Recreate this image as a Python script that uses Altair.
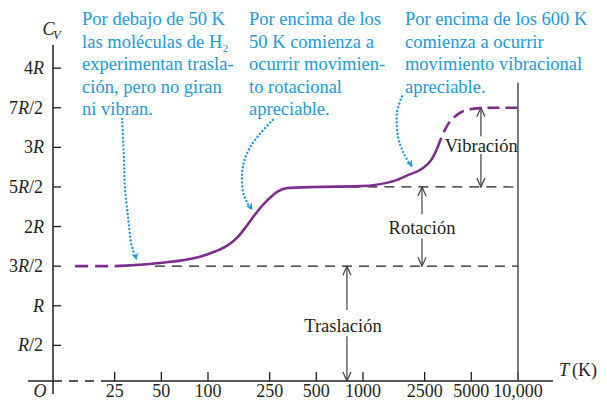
import altair as alt
import pandas as pd

# ---------------- data ----------------
# Heat capacity curve of H2 (T in K, Cv in units of R)
curve_T = [13.9, 18, 25, 31.4, 49, 88.7, 111, 134.6, 156, 181, 210, 244, 283, 328, 490,
           956, 1608, 1950, 2403, 2788, 3000, 3234, 3535, 3925, 4355, 4900, 5686, 7110, 10000]
curve_v = [1.5, 1.5, 1.5, 1.51, 1.54, 1.62, 1.685, 1.765, 1.87, 2.03, 2.20, 2.34, 2.445, 2.486, 2.5,
           2.51, 2.58, 2.65, 2.73, 2.855, 2.98, 3.14, 3.29, 3.39, 3.45, 3.48, 3.495, 3.5, 3.5]
solid_from, solid_to = 25, 3000

# dashed reference levels
ref_v = [1.5, 2.5]
ref_start = [45.5, 500]
ref_end = [10000, 10000]

# axis ticks / labels
x_ticks = [25, 50, 100, 250, 500, 1000, 2500, 5000, 10000]
x_labels = ["25", "50", "100", "250", "500", "1000", "2500", "5000", "10,000"]
y_ticks = [0.5, 1, 1.5, 2, 2.5, 3, 3.5, 4]
y_pre = ["", "", "3", "2", "5", "3", "7", "4"]
y_suf = ["/2", "", "/2", "", "/2", "", "/2", ""]
x_break = 22.6
x_min, x_max = 10, 16830
y_min, y_max = 0.05, 4.2925

# right border line
border_T = [10000]
border_top = [3.815]

# double arrows
arrow_T = [788, 2404, 5768]
arrow_top = [1.5, 2.5, 3.5]
arrow_gap_hi = [0.948, 2.157, 3.14]
arrow_gap_lo = [0.615, 1.85, 2.917]
arrow_bot = [y_min, 1.5, 2.5]
arrow_label = ["Traslación", "Rotación", "Vibración"]
label_T = [743, 2404, 5800]
label_v = [0.673, 1.911, 2.938]

# blue annotations
ann_text = [
    "Por debajo de 50 K\nlas moléculas de H₂\nexperimentan trasla-\nción, pero no giran\nni vibran.",
    "Por encima de los\n50 K comienza a\nocurrir movimien-\nto rotacional\napreciable.",
    "Por encima de los 600 K\ncomienza a ocurrir\nmovimiento vibracional\napreciable.",
]
ann_T = [15.4, 184, 1866]
ann_v = [4.545, 4.545, 4.545]

# dotted pointer curves
p1_T = [27.9, 28.7, 29.1, 30.5, 31.8, 33.8]
p1_v = [3.36, 2.855, 2.486, 2.117, 1.809, 1.625]
p2_T = [262, 223, 192, 173, 166, 168, 179, 189]
p2_v = [3.348, 3.2, 3.04, 2.855, 2.671, 2.449, 2.302, 2.228]
p3_T = [1786, 1657, 1682, 1841, 2042]
p3_v = [3.643, 3.434, 3.138, 2.917, 2.769]
head_T = [34.6, 194, 2085]
head_v = [1.575, 2.209, 2.751]
head_ang = [345, 326, 330]

# ---------------- styling ----------------
SERIF = "Liberation Serif"
BLACK = "#231f20"
GRAY = "#404040"
PURPLE = "#7e2d8e"
BLUE = "#1d9ad8"
W, H = 500, 336

x_scale = alt.Scale(type="log", domain=[x_min, x_max], nice=False)
y_scale = alt.Scale(domain=[y_min, y_max], nice=False, zero=False)


def X(f):
    return alt.X(f"{f}:Q", scale=x_scale, axis=None)


def Y(f):
    return alt.Y(f"{f}:Q", scale=y_scale, axis=None)


layers = []
one = pd.DataFrame({"a": [0]})

# axes lines
layers.append(alt.Chart(one).mark_rule(color=BLACK, strokeWidth=1.5).encode(
    x=alt.value(0), y=alt.value(0), y2=alt.value(H + 13)))
layers.append(alt.Chart(one).mark_rule(color=BLACK, strokeWidth=1.5).encode(
    x=alt.value(-25), x2=alt.value(0), y=alt.value(H)))
axis_df = pd.DataFrame({"t0": [x_min, x_break], "t1": [x_break, x_max], "kind": ["dash", "solid"]})
layers.append(alt.Chart(axis_df).transform_filter("datum.kind == 'dash'").mark_rule(
    color=BLACK, strokeWidth=1.3, strokeDash=[9, 7]).encode(x=X("t0"), x2="t1", y=alt.value(H)))
layers.append(alt.Chart(axis_df).transform_filter("datum.kind == 'solid'").mark_rule(
    color=BLACK, strokeWidth=1.5).encode(x=X("t0"), x2="t1", y=alt.value(H)))

# ticks
xt = pd.DataFrame({"T": x_ticks, "lab": x_labels})
layers.append(alt.Chart(xt).mark_rule(color=BLACK, strokeWidth=1.3).encode(
    x=X("T"), y=alt.value(H), y2=alt.value(H - 9)))
layers.append(alt.Chart(xt).mark_text(font=SERIF, fontSize=18, color=BLACK, align="center",
                                      baseline="alphabetic").encode(
    x=X("T"), y=alt.value(H + 16), text="lab:N"))
yt = pd.DataFrame({"v": y_ticks, "pre": y_pre, "suf": y_suf, "r": ["R"] * len(y_ticks)})
layers.append(alt.Chart(yt).mark_rule(color=BLACK, strokeWidth=1.3).encode(
    y=Y("v"), x=alt.value(0), x2=alt.value(8)))


def ylab(cond, field, xpos, italic):
    return alt.Chart(yt).transform_filter(cond).mark_text(
        font=SERIF, fontSize=18, color=BLACK, align="right", baseline="alphabetic", dy=6,
        fontStyle="italic" if italic else "normal").encode(
        y=Y("v"), x=alt.value(xpos), text=f"{field}:N")


layers.append(ylab("datum.suf == ''", "pre", -20, False))
layers.append(ylab("datum.suf == ''", "r", -9, True))
layers.append(ylab("datum.suf != ''", "suf", -10, False))
layers.append(ylab("datum.suf != ''", "r", -24, True))
layers.append(ylab("datum.suf != ''", "pre", -35, False))

# axis titles
layers.append(alt.Chart(one).mark_text(text="O", font=SERIF, fontSize=18, fontStyle="italic",
                                       color=BLACK, align="center", baseline="alphabetic").encode(
    x=alt.value(-13), y=alt.value(H + 16)))
layers.append(alt.Chart(one).mark_text(text="C", font=SERIF, fontSize=18, fontStyle="italic",
                                       color=BLACK, align="left", baseline="alphabetic").encode(
    x=alt.value(-10.5), y=alt.value(-10)))
layers.append(alt.Chart(one).mark_text(text="V", font=SERIF, fontSize=12.5, fontStyle="italic",
                                       color=BLACK, align="left", baseline="alphabetic").encode(
    x=alt.value(0), y=alt.value(-6)))
layers.append(alt.Chart(one).mark_text(text="T", font=SERIF, fontSize=18, fontStyle="italic",
                                       color=BLACK, align="left", baseline="alphabetic").encode(
    x=alt.value(506), y=alt.value(H - 5)))
layers.append(alt.Chart(one).mark_text(text="(K)", font=SERIF, fontSize=18,
                                       color=BLACK, align="left", baseline="alphabetic").encode(
    x=alt.value(519), y=alt.value(H - 5)))

# dashed reference lines
ref = pd.DataFrame({"v": ref_v, "t0": ref_start, "t1": ref_end})
layers.append(alt.Chart(ref).mark_rule(color=BLACK, strokeWidth=1.2, strokeDash=[10, 7]).encode(
    x=X("t0"), x2="t1", y=Y("v")))

# right border
bd = pd.DataFrame({"T": border_T, "v0": border_top, "v1": [y_min]})
layers.append(alt.Chart(bd).mark_rule(color="#5a5a5a", strokeWidth=1.6).encode(
    x=X("T"), y=Y("v0"), y2="v1"))

# double arrows
ar = pd.DataFrame({"T": arrow_T, "top": arrow_top, "ghi": arrow_gap_hi, "glo": arrow_gap_lo,
                   "bot": arrow_bot})
layers.append(alt.Chart(ar).mark_rule(color=GRAY, strokeWidth=1.2).encode(
    x=X("T"), y=Y("top"), y2="ghi"))
layers.append(alt.Chart(ar).mark_rule(color=GRAY, strokeWidth=1.2).encode(
    x=X("T"), y=Y("glo"), y2="bot"))
layers.append(alt.Chart(ar).mark_point(shape="M-0.45,1L0,0L0.45,1", filled=False, size=324,
                                       color=GRAY, strokeWidth=1.2, opacity=1).encode(
    x=X("T"), y=Y("top")))
layers.append(alt.Chart(ar).mark_point(shape="M-0.45,-1L0,0L0.45,-1", filled=False, size=324,
                                       color=GRAY, strokeWidth=1.2, opacity=1).encode(
    x=X("T"), y=Y("bot")))
lb = pd.DataFrame({"T": label_T, "v": label_v, "t": arrow_label})
layers.append(alt.Chart(lb).mark_text(font=SERIF, fontSize=18.5, color=BLACK, align="center",
                                      baseline="alphabetic").encode(
    x=X("T"), y=Y("v"), text="t:N"))

# curve
cv = pd.DataFrame({"temp": curve_T, "v": curve_v})
low = cv[cv["temp"] <= solid_from]
mid = cv[(cv["temp"] >= solid_from) & (cv["temp"] <= solid_to)]
high = cv[cv["temp"] >= solid_to]
layers.append(alt.Chart(low).mark_line(color=PURPLE, strokeWidth=2.6, strokeDash=[13, 7],
                                       interpolate="monotone").encode(x=X("temp"), y=Y("v")))
layers.append(alt.Chart(mid).mark_line(color=PURPLE, strokeWidth=2.6,
                                       interpolate="monotone").encode(x=X("temp"), y=Y("v")))
layers.append(alt.Chart(high).mark_line(color=PURPLE, strokeWidth=2.6, strokeDash=[12, 6],
                                        interpolate="monotone").encode(x=X("temp"), y=Y("v")))

# blue annotations
an = pd.DataFrame({"T": ann_T, "v": ann_v, "t": ann_text})
layers.append(alt.Chart(an).mark_text(font=SERIF, fontSize=18.5, color=BLUE, align="left",
                                      baseline="alphabetic", lineBreak="\n", lineHeight=22.5).encode(
    x=X("T"), y=Y("v"), text="t:N"))

pts = []
for cid, (ts, vs) in enumerate([(p1_T, p1_v), (p2_T, p2_v), (p3_T, p3_v)]):
    for i, (t, v) in enumerate(zip(ts, vs)):
        pts.append({"c": cid, "i": i, "T": t, "v": v})
pdf = pd.DataFrame(pts)
layers.append(alt.Chart(pdf).mark_line(color=BLUE, strokeWidth=2.4, strokeDash=[0.01, 3.8],
                                       strokeCap="round", interpolate="cardinal").encode(
    x=X("T"), y=Y("v"), detail="c:N", order="i:Q"))
hd = pd.DataFrame({"T": head_T, "v": head_v, "ang": head_ang})
layers.append(alt.Chart(hd).mark_point(shape="M0,0L-1,-2L0,-1.4L1,-2Z", filled=True, size=49,
                                       color=BLUE, opacity=1).encode(
    x=X("T"), y=Y("v"), angle=alt.Angle("ang:Q", scale=None)))

chart = alt.layer(*layers).properties(
    width=W, height=H,
    padding={"left": 45, "top": 37, "right": 45, "bottom": 20},
    autosize=alt.AutoSizeParams(type="none"),
).configure_view(stroke=None)

chart.save("out.html", embed_options={"renderer": "svg", "actions": False})
